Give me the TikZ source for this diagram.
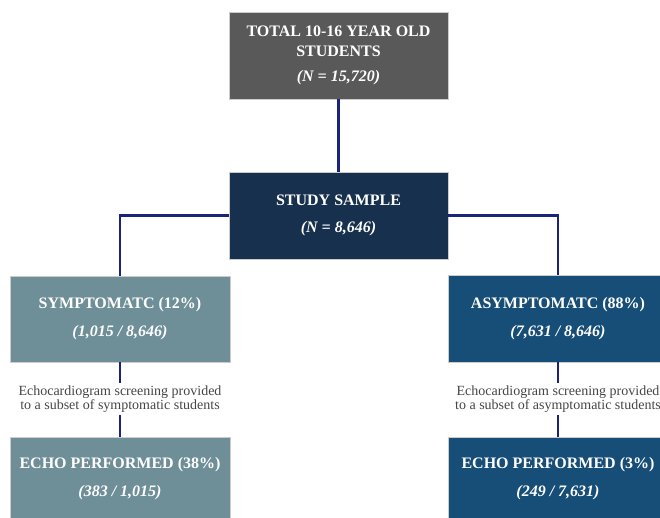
\documentclass[tikz,border=0pt]{standalone}
\usepackage{fontspec}
\setmainfont{Liberation Serif}
\usepackage{tikz}
\usetikzlibrary{positioning,calc}

\definecolor{totalgray}{HTML}{595959}
\definecolor{samplenavy}{HTML}{17304D}
\definecolor{sympteal}{HTML}{6F8F98}
\definecolor{asymblue}{HTML}{174E78}
\definecolor{linkblue}{HTML}{1A237E}
\definecolor{notegray}{HTML}{454545}

\begin{document}
\begin{tikzpicture}[x=1pt,y=-1pt,
  box/.style={rectangle,draw=white!80!black,line width=0.6pt,text=white,align=center,
    inner sep=0pt,font=\fontsize{16}{20}\selectfont\bfseries},
  link/.style={draw=linkblue,line width=2.2pt},
  note/.style={text=notegray,align=center,font=\fontsize{14}{14}\selectfont,inner sep=2pt}]
\useasboundingbox (0,0) rectangle (660,518);
\node[box,fill=totalgray,minimum width=219pt,minimum height=87pt] (total) at (338.5,55.5)
  {TOTAL 10-16 YEAR OLD\\STUDENTS\\[5pt]\textit{(N = 15,720)}};
\node[box,fill=samplenavy,minimum width=219pt,minimum height=87pt] (sample) at (338.5,215.5)
  {STUDY SAMPLE\\[7pt]\textit{(N = 8,646)}};
\node[box,fill=sympteal,minimum width=220pt,minimum height=86pt] (symp) at (120,319)
  {SYMPTOMATC (12\%)\\[8pt]\textit{(1,015 / 8,646)}};
\node[box,fill=asymblue,minimum width=220pt,minimum height=87pt] (asym) at (558,318.5)
  {ASYMPTOMATC (88\%)\\[8pt]\textit{(7,631 / 8,646)}};
\node[note] (sympnote) at (120,399) {Echocardiogram screening provided\\to a subset of symptomatic students};
\node[note] (asymnote) at (558,399) {Echocardiogram screening provided\\to a subset of asymptomatic students};
\node[box,fill=sympteal,minimum width=220pt,minimum height=84pt] (sympecho) at (120,479)
  {ECHO PERFORMED (38\%)\\[8pt]\textit{(383 / 1,015)}};
\node[box,fill=asymblue,minimum width=220pt,minimum height=84pt] (asymecho) at (558,479)
  {ECHO PERFORMED (3\%)\\[8pt]\textit{(249 / 7,631)}};
% connectors
\draw[link] (total.south) -- (sample.north);
\draw[link] (sample.west) -| (symp.north);
\draw[link] (sample.east) -| (asym.north);
\draw[link] (symp.south) -- (sympnote.north);
\draw[link] (sympnote.south) -- (sympecho.north);
\draw[link] (asym.south) -- (asymnote.north);
\draw[link] (asymnote.south) -- (asymecho.north);
\end{tikzpicture}
\end{document}
